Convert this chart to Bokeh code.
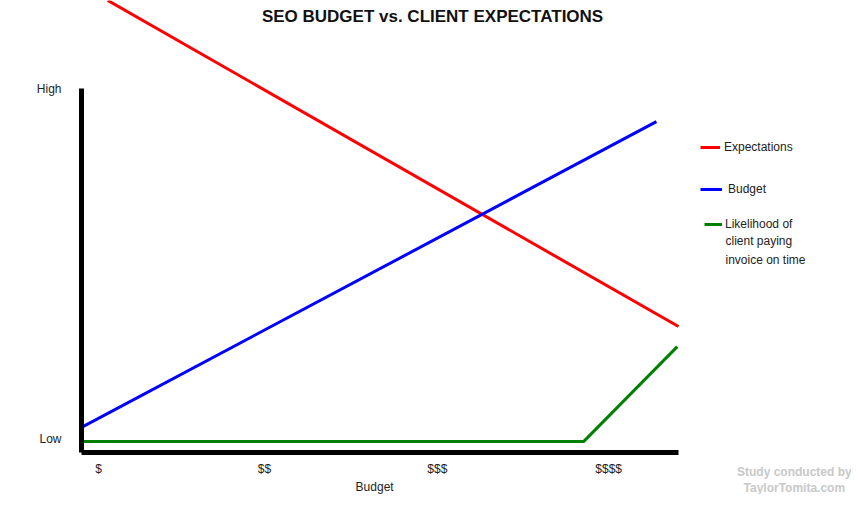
from bokeh.plotting import figure
from bokeh.models import Range1d, FixedTicker, Label, Legend, LegendItem, PlainText
from bokeh.embed import file_html
from bokeh.resources import INLINE

# ---- data (budget on x: 0..100, level on y: 0 = Low .. 100 = High) ----
expectations_x = [4.4, 100.0]
expectations_y = [124.2, 34.6]

budget_x = [0.0, 96.3]
budget_y = [6.9, 90.9]

likelihood_x = [0.0, 84.1, 99.8]
likelihood_y = [3.0, 3.0, 29.1]

budget_tick_pos = [2.85, 30.65, 59.6, 88.3]
budget_tick_labels = ["$", "$$", "$$$", "$$$$"]

level_tick_pos = [3.8, 100.0]
level_tick_labels = ["Low", "High"]

title_text = "SEO BUDGET vs. CLIENT EXPECTATIONS"
x_label_text = "Budget"
legend_labels = ["Expectations", "Budget", "Likelihood of"]
legend_extra_lines = ["client paying", "invoice on time"]
footer_lines = ["Study conducted by", "TaylorTomita.com"]

FONT = "Liberation Sans"

p = figure(width=851, height=494, output_backend="svg", toolbar_location=None,
           x_range=Range1d(-13.57, 128.98), y_range=Range1d(-11.54, 124.18),
           min_border=0)
p.outline_line_color = None
p.grid.visible = False
p.background_fill_color = "white"
p.border_fill_color = "white"

p.xaxis.fixed_location = 0
p.yaxis.fixed_location = 0

for ax in (p.xaxis[0], p.yaxis[0]):
    ax.axis_line_width = 5
    ax.axis_line_color = "black"
    ax.bounds = (0, 100)
    ax.major_tick_line_color = None
    ax.minor_tick_line_color = None
    ax.major_tick_out = 0
    ax.major_tick_in = 0
    ax.major_label_text_font = FONT
    ax.major_label_text_font_size = "12px"
    ax.major_label_text_color = "#222222"

p.xaxis.ticker = FixedTicker(ticks=budget_tick_pos)
p.xaxis.major_label_overrides = {t: PlainText(text=l) for t, l in zip(budget_tick_pos, budget_tick_labels)}
p.xaxis.major_label_standoff = 10

p.yaxis.ticker = FixedTicker(ticks=level_tick_pos)
p.yaxis.major_label_overrides = {t: PlainText(text=l) for t, l in zip(level_tick_pos, level_tick_labels)}
p.yaxis.major_label_standoff = 20

r_exp = p.line(expectations_x, expectations_y, line_color="#ff0000", line_width=3)
r_bud = p.line(budget_x, budget_y, line_color="#0000ff", line_width=3)
r_lik = p.line(likelihood_x, likelihood_y, line_color="#008000", line_width=3)

def make_legend(label, rend, loc, gw, standoff):
    lg = Legend(items=[LegendItem(label=label, renderers=[rend])], location=loc,
                glyph_width=gw, glyph_height=20, label_standoff=standoff,
                padding=0, margin=0, spacing=0,
                label_text_font=FONT, label_text_font_size="12px",
                label_text_color="#222222",
                border_line_color=None, background_fill_alpha=0)
    p.add_layout(lg)

make_legend(legend_labels[0], r_exp, (700, 337), 20, 4)
make_legend(legend_labels[1], r_bud, (700, 295), 22, 6)
make_legend(legend_labels[2], r_lik, (704, 260), 18, 3)

for txt, yy in zip(legend_extra_lines, [58.24, 52.75]):
    p.add_layout(Label(x=107.87, y=yy, text=txt, text_align="left", text_baseline="middle",
                       text_font=FONT, text_font_size="12px", text_color="#222222"))

p.add_layout(Label(x=58.8, y=119.8, text=title_text, text_align="center", text_baseline="middle",
                   text_font=FONT, text_font_style="bold",
                   text_font_size="17px", text_color="#111111"))
p.add_layout(Label(x=49.1, y=-9.6, text=x_label_text, text_align="center", text_baseline="middle",
                   text_font=FONT, text_font_size="12px", text_color="#222222"))
p.add_layout(Label(x=119.4, y=-5.49, text=footer_lines[0], text_align="center", text_baseline="middle",
                   text_font=FONT, text_font_style="bold", text_font_size="12px", text_color="#c8c8c8"))
p.add_layout(Label(x=119.4, y=-9.89, text=footer_lines[1], text_align="center", text_baseline="middle",
                   text_font=FONT, text_font_style="bold", text_font_size="12px", text_color="#c8c8c8"))

open("out.html", "w").write(file_html(p, INLINE))
